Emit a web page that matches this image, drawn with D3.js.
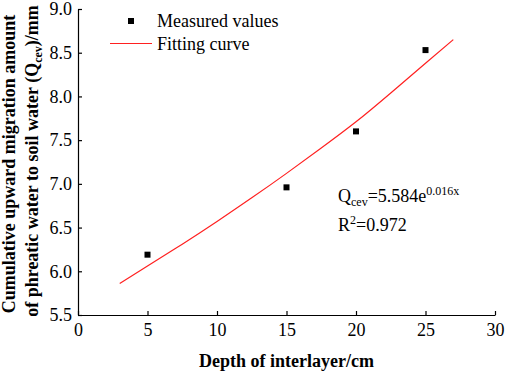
<!DOCTYPE html>
<html>
<head>
<meta charset="utf-8">
<script src="https://cdn.jsdelivr.net/npm/d3@7"></script>
<style>
body { margin: 0; background: #fff; }
svg text { font-family: "Liberation Serif", "Times New Roman", serif; }
</style>
</head>
<body>
<svg width="505" height="372"></svg>
<script>
// measured points
var depth = [5, 15, 20, 25];
var measured = [6.19, 6.96, 7.60, 8.53];

// fitting curve
var fitX = [3, 5, 7.5, 10, 12.5, 15, 17.5, 20, 22.5, 25, 27];
var fitY = [5.86, 6.06, 6.31, 6.57, 6.84, 7.12, 7.41, 7.71, 8.04, 8.38, 8.65];

var xTicks = [0, 5, 10, 15, 20, 25, 30];
var yTicks = [5.5, 6.0, 6.5, 7.0, 7.5, 8.0, 8.5, 9.0];

var svg = d3.select("svg"),
    margin = {top: 9, right: 10, bottom: 57, left: 78},
    width = +svg.attr("width") - margin.left - margin.right,
    height = +svg.attr("height") - margin.top - margin.bottom,
    g = svg.append("g").attr("transform", "translate(" + margin.left + "," + margin.top + ")");

var x = d3.scaleLinear().domain([0, 30]).range([0, width]);
var y = d3.scaleLinear().domain([5.5, 9.0]).range([height, 0]);

var xAxis = g.append("g")
    .attr("transform", "translate(0," + height + ")")
    .call(d3.axisBottom(x).tickValues(xTicks).tickSizeInner(-4).tickSizeOuter(0).tickPadding(8))
    .attr("font-size", 18)
    .attr("font-family", "Liberation Serif");
xAxis.selectAll("text").attr("dy", "0.71em");

var yAxis = g.append("g")
    .call(d3.axisLeft(y).tickValues(yTicks).tickFormat(d3.format(".1f")).tickSizeInner(-4).tickSizeOuter(0).tickPadding(6))
    .attr("font-size", 18)
    .attr("font-family", "Liberation Serif");

[xAxis, yAxis].forEach(a => {
    a.selectAll("path, line").attr("stroke", "#000").attr("stroke-width", 1.2);
    a.selectAll("text").attr("fill", "#000");
});

// fitting curve
var fit = fitX.map((v, i) => ({x: v, y: fitY[i]}));
var line = d3.line()
    .x(d => x(d.x))
    .y(d => y(d.y))
    .curve(d3.curveNatural);

g.append("path")
    .datum(fit)
    .attr("fill", "none")
    .attr("stroke", "#ff2020")
    .attr("stroke-width", 1.2)
    .attr("d", line);

// measured squares
g.selectAll(".pt")
    .data(depth)
    .enter().append("rect")
    .attr("class", "pt")
    .attr("x", (d, i) => x(d) - 3)
    .attr("y", (d, i) => y(measured[i]) - 3)
    .attr("width", 6)
    .attr("height", 6)
    .attr("fill", "#000");

// legend
var lg = svg.append("g");
lg.append("rect").attr("x", 128).attr("y", 18).attr("width", 6).attr("height", 6).attr("fill", "#000");
lg.append("text").attr("x", 157).attr("y", 27).style("font-size", "18px").text("Measured values");
lg.append("line").attr("x1", 110).attr("x2", 152).attr("y1", 43.5).attr("y2", 43.5)
    .attr("stroke", "#ff2020").attr("stroke-width", 1.2);
lg.append("text").attr("x", 157).attr("y", 50).style("font-size", "18px").text("Fitting curve");

// equation
var eq = svg.append("text").attr("x", 338).attr("y", 202).style("font-size", "18px");
eq.append("tspan").text("Q");
eq.append("tspan").attr("dy", 4).style("font-size", "12px").text("cev");
eq.append("tspan").attr("dy", -4).text("=5.584e");
eq.append("tspan").attr("dy", -7).style("font-size", "12px").text("0.016x");

var r2 = svg.append("text").attr("x", 338).attr("y", 231).style("font-size", "18px");
r2.append("tspan").text("R");
r2.append("tspan").attr("dy", -7).style("font-size", "12px").text("2");
r2.append("tspan").attr("dy", 7).text("=0.972");

// axis titles
svg.append("text")
    .attr("x", margin.left + width / 2)
    .attr("y", 367)
    .attr("text-anchor", "middle")
    .style("font-size", "18px")
    .style("font-weight", "bold")
    .text("Depth of interlayer/cm");

svg.append("text")
    .attr("transform", "translate(15,164) rotate(-90)")
    .attr("text-anchor", "middle")
    .style("font-size", "18px")
    .style("font-weight", "bold")
    .text("Cumulative upward migration amount");

var yl2 = svg.append("text")
    .attr("transform", "translate(38,161) rotate(-90)")
    .attr("text-anchor", "middle")
    .style("font-size", "18px")
    .style("font-weight", "bold");
yl2.append("tspan").text("of phreatic water to soil water (Q");
yl2.append("tspan").attr("dy", 4).style("font-size", "12px").text("cev");
yl2.append("tspan").attr("dy", -4).text(")/mm");
</script>
</body>
</html>
